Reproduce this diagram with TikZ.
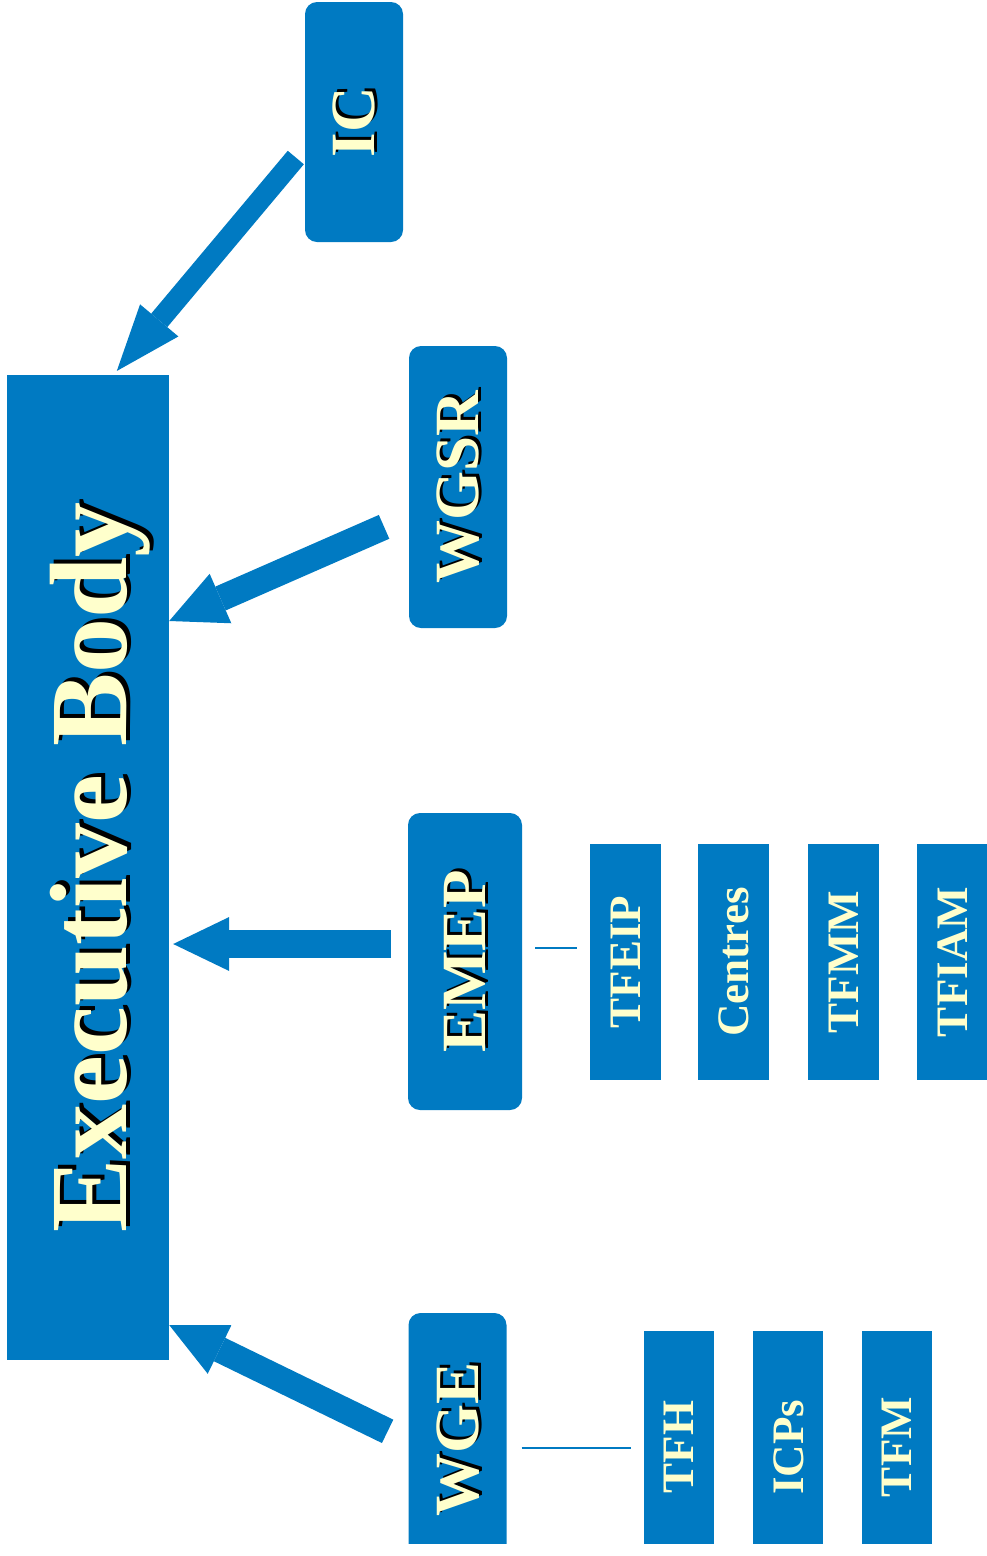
\documentclass[tikz,border=0pt]{standalone}
\usepackage{fontspec}
\setmainfont{Liberation Serif}
\usetikzlibrary{arrows.meta,positioning}
\definecolor{ebBlue}{RGB}{0,122,194}
\definecolor{ebYellow}{RGB}{255,255,204}
\newcommand{\upText}[1]{\rotatebox{90}{\raisebox{0pt}[\height][0pt]{#1}}}
\newcommand{\shadowText}[2]{\rlap{\kern#1\raisebox{-#1}{\color{black}#2}}#2}

\begin{document}
\begin{tikzpicture}[x=1pt, y=-1pt]
  \tikzset{
    bodyBox/.style={fill=ebBlue, text=ebYellow, inner sep=0pt, font=\bfseries\fontsize{110}{110}\selectfont},
    groupBox/.style={fill=ebBlue, text=ebYellow, rounded corners=12pt, inner sep=0pt, minimum width=98pt, font=\bfseries\fontsize{63}{63}\selectfont},
    taskBox/.style={fill=ebBlue, text=ebYellow, inner sep=0pt, minimum width=71pt, minimum height=236pt, font=\bfseries\fontsize{45}{45}\selectfont},
    lowTask/.style={taskBox, minimum width=70pt, minimum height=232pt},
    bigArrow/.style={draw=ebBlue, line width=26pt, -{Triangle[length=56pt,width=54pt,line width=0pt]}},
    thinLine/.style={draw=ebBlue, line width=2pt}
  }
  \useasboundingbox (0,0) rectangle (987,1556);
  \clip (0,0) rectangle (987,1543);
  % main body
  \node[bodyBox, minimum width=162pt, minimum height=985pt] (eb) at (88,867.5) {\upText{\shadowText{4pt}{Executive Body}}};
  % groups
  \node[groupBox, minimum height=240pt] (ic) at (354,122) {\upText{\shadowText{3pt}{IC}}};
  \node[groupBox, minimum height=282pt] (wgsr) at (458,487) {\upText{\shadowText{3pt}{WGSR}}};
  \node[groupBox, minimum width=114pt, minimum height=297pt] (emep) at (465,961.5) {\upText{\shadowText{3pt}{EMEP}}};
  \node[groupBox, minimum height=252pt] (wge) at (457.5,1439) {\upText{\shadowText{3pt}{WGE}}};
  % task forces
  \node[taskBox] (tfeip) at (625.5,962) {\upText{TFEIP}};
  \node[taskBox, right=37pt of tfeip] (centres) {\upText{Centres}};
  \node[taskBox, right=38pt of centres] (tfmm) {\upText{TFMM}};
  \node[taskBox, right=38pt of tfmm] (tfiam) {\upText{TFIAM}};
  \node[lowTask] (tfh) at (679,1447) {\upText{TFH}};
  \node[lowTask, right=39pt of tfh] (icps) {\upText{ICPs}};
  \node[lowTask, right=38pt of icps] (tfm) {\upText{TFM}};
  % reporting arrows
  \draw[bigArrow, line width=21pt, -{Triangle[length=66pt,width=50pt,line width=0pt]}, shorten <=14pt, shorten >=5pt]
    ([yshift=-24.8pt]ic.west) -- ([xshift=25.6pt]eb.north);
  \draw[bigArrow, shorten <=27pt] ([yshift=-29pt]wgsr.west) -- ([yshift=246.5pt]eb.east);
  \draw[bigArrow, line width=28pt, shorten <=17pt, shorten >=4pt] ([yshift=17.5pt]emep.west) -- ([yshift=-76.5pt]eb.east);
  \draw[bigArrow, shorten <=23pt] ([yshift=-2.4pt]wge.west) -- ([yshift=-457.5pt]eb.east);
  % links to task forces
  \draw[thinLine, shorten <=13pt, shorten >=13pt] ([yshift=13.5pt]emep.east) -- ([yshift=14pt]tfeip.west);
  \draw[thinLine, shorten <=15pt, shorten >=13pt] ([yshift=-9pt]wge.east) -- ([yshift=-1pt]tfh.west);
\end{tikzpicture}
\end{document}
